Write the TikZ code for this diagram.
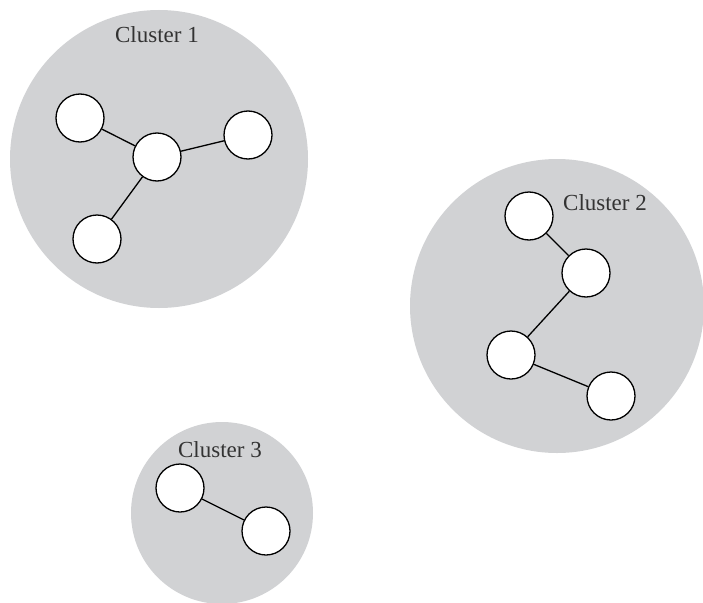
\documentclass[tikz,border=0pt]{standalone}
\usepackage{fontspec}
\setmainfont{Liberation Serif}
\definecolor{clgrey}{RGB}{209,210,212}
\definecolor{txtgrey}{RGB}{51,51,51}
\begin{document}
\begin{tikzpicture}[x=1pt,y=-1pt,
  cluster/.style={circle,fill=clgrey,draw=none,inner sep=0pt},
  member/.style={circle,fill=white,draw=black,line width=1.3pt,minimum size=48pt,inner sep=0pt},
  link/.style={draw=black,line width=1.3pt},
  clabel/.style={anchor=base,text=txtgrey,font=\fontsize{23}{27}\selectfont,inner sep=0pt}]
\useasboundingbox (0,0) rectangle (703,602);
\begin{scope}
\clip (0,0) rectangle (703,602);
\node[cluster,minimum size=298pt] (k1) at (159,159) {};
\node[cluster,minimum size=294pt] (k2) at (557,306) {};
\node[cluster,minimum size=182pt] (k3) at (222,513) {};
\end{scope}
\node[clabel] (l1) at (157,43) {Cluster 1};
\node[clabel] (l2) at (605,210) {Cluster 2};
\node[clabel] (l3) at (220,457) {Cluster 3};
% cluster 1
\node[member] (a1) at (80,118) {};
\node[member] (a2) at (157,157) {};
\node[member] (a3) at (248,135) {};
\node[member] (a4) at (97,239) {};
\draw[link] (a1) -- (a2);
\draw[link] (a2) -- (a3);
\draw[link] (a2) -- (a4);
% cluster 2
\node[member] (b1) at (529,216) {};
\node[member] (b2) at (586,273) {};
\node[member] (b3) at (511,355) {};
\node[member] (b4) at (611,396) {};
\draw[link] (b1) -- (b2);
\draw[link] (b2) -- (b3);
\draw[link] (b3) -- (b4);
% cluster 3
\node[member] (c1) at (180,488) {};
\node[member] (c2) at (266,531) {};
\draw[link] (c1) -- (c2);
\end{tikzpicture}
\end{document}
